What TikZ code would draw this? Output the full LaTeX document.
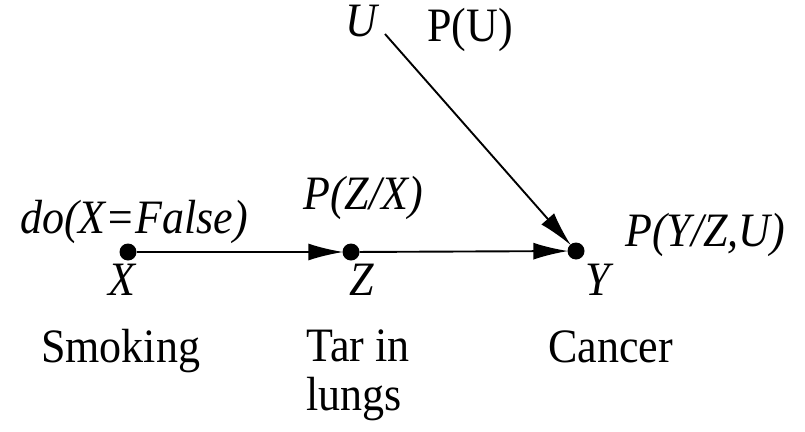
\documentclass[tikz,border=0pt]{standalone}
\usepackage{fontspec}
\usepackage{graphicx}
\setmainfont{Liberation Serif}
\usetikzlibrary{arrows.meta}
\newcommand{\tallt}[1]{\scalebox{1}[1.09]{#1}}
\begin{document}
\begin{tikzpicture}[x=1pt,y=-1pt,
  dot/.style={circle,fill=black,inner sep=0pt,minimum size=17pt},
  txt/.style={inner sep=0pt,font=\fontsize{44}{50}\selectfont},
  itxt/.style={txt,font=\fontsize{44}{50}\selectfont\itshape},
  conn/.style={line width=1.9pt,-{Latex[length=35pt,width=17pt]},shorten >=-1pt}]
\useasboundingbox (0,0) rectangle (805,431);
\node[dot] (dx) at (128,252) {};
\node[dot] (dz) at (351,252) {};
\node[dot] (dy) at (576,251) {};
\coordinate (us) at (385,34);
\draw[conn] (dx) -- (dz);
\draw[conn] (dz) -- (dy);
\draw[conn] (us) -- (dy);
\node[itxt,anchor=base west] (do) at (20,233) {\tallt{do(X=False)}};
\node[itxt,anchor=base] (lx) at (122,295) {\tallt{X}};
\node[itxt,anchor=base west] (pz) at (303,209) {\tallt{P(Z/X)}};
\node[itxt,anchor=base] (lz) at (362,295) {\tallt{Z}};
\node[itxt,anchor=base] (ly) at (598,295) {\tallt{Y}};
\node[itxt,anchor=base west] (py) at (625,246) {\tallt{P(Y/Z,U)}};
\node[itxt,anchor=base west] (lu) at (345,36) {\tallt{U}};
\node[txt,anchor=base west] (pu) at (427,41) {\tallt{P(U)}};
\node[txt,anchor=base west] (sm) at (41,362) {\tallt{Smoking}};
\node[txt,anchor=base west] (tar) at (306,361) {\tallt{Tar in}};
\node[txt,anchor=base west] (lungs) at (306,410) {\tallt{lungs}};
\node[txt,anchor=base west] (ca) at (548,362) {\tallt{Cancer}};
\end{tikzpicture}
\end{document}
